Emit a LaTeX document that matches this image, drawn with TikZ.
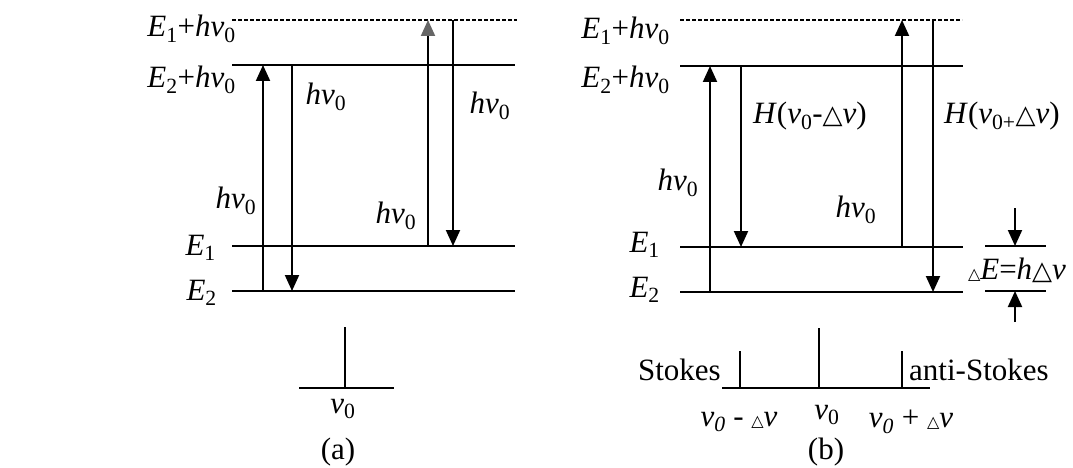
\documentclass[tikz,border=0pt]{standalone}
\usepackage{fontspec}
\setmainfont{Liberation Serif}
\newfontfamily\symfont{DejaVu Sans}
\usetikzlibrary{arrows.meta}
\newcommand\tri{{\symfont\fontsize{26}{26}\selectfont △}}
\newcommand\smalltri{{\symfont\fontsize{16}{16}\selectfont △}}
\newcommand\hvo{\textit{hv}\textsubscript{0}}
\newcommand\Eo[1]{\textit{E}\textsubscript{#1}}
\begin{document}
\begin{tikzpicture}[x=1pt,y=-1pt,
  lvl/.style={line width=2pt},
  dlvl/.style={line width=1.3pt, dash pattern=on 3.5pt off 2.5pt},
  arr/.style={line width=2pt,-{Triangle[length=16pt,width=14pt]}},
  garr/.style={line width=2pt,-{Triangle[length=16pt,width=14pt,color=black!60]}},
  lbl/.style={inner sep=0pt, font=\fontsize{31}{33}\selectfont},
  every node/.style={lbl}]
\useasboundingbox (0,0) rectangle (1073,468);
% ---------- panel (a) ----------
\coordinate (aD1) at (232,20);  \coordinate (aD2) at (517,20);
\coordinate (aU1) at (232,65);  \coordinate (aU2) at (515,65);
\coordinate (aE11) at (232,246); \coordinate (aE12) at (515,246);
\coordinate (aE21) at (232,291); \coordinate (aE22) at (515,291);
\draw[dlvl] (aD1) -- (aD2);
\draw[lvl] (aU1) -- (aU2);
\draw[lvl] (aE11) -- (aE12);
\draw[lvl] (aE21) -- (aE22);
\node[anchor=base east] (laD) at (236,37) {\Eo{1}+\hvo};
\node[anchor=base east] (laU) at (236,88) {\Eo{2}+\hvo};
\node[anchor=base east] (laE1) at (216,255) {\Eo{1}};
\node[anchor=base east] (laE2) at (217,300) {\Eo{2}};
\coordinate (a1b) at (263,291); \coordinate (a1t) at (263,65);
\coordinate (a2t) at (292,65);  \coordinate (a2b) at (292,291);
\coordinate (a3b) at (428,246); \coordinate (a3t) at (428,20);
\coordinate (a4t) at (453,20);  \coordinate (a4b) at (453,246);
\draw[arr] (a1b) -- (a1t);
\draw[arr] (a2t) -- (a2b);
\draw[garr] (a3b) -- (a3t);
\draw[arr] (a4t) -- (a4b);
\node (ha1) at (326,97) {\hvo};
\node (ha2) at (490,106) {\hvo};
\node (ha3) at (236,201) {\hvo};
\node (ha4) at (396,216) {\hvo};
\coordinate (as1) at (345,327); \coordinate (as2) at (345,388);
\coordinate (ab1) at (299,388); \coordinate (ab2) at (394,388);
\draw[lvl] (as1) -- (as2);
\draw[lvl] (ab1) -- (ab2);
\node (anu) at (343,409) {\textit{v}\textsubscript{0}};
\node (acap) at (338,452) {(a)};
% ---------- panel (b) ----------
\coordinate (bD1) at (680,20);  \coordinate (bD2) at (962,20);
\coordinate (bU1) at (680,66);  \coordinate (bU2) at (963,66);
\coordinate (bE11) at (680,247); \coordinate (bE12) at (963,247);
\coordinate (bE21) at (680,292); \coordinate (bE22) at (963,292);
\draw[dlvl] (bD1) -- (bD2);
\draw[lvl] (bU1) -- (bU2);
\draw[lvl] (bE11) -- (bE12);
\draw[lvl] (bE21) -- (bE22);
\node[anchor=base east] (lbD) at (670,39) {\Eo{1}+\hvo};
\node[anchor=base east] (lbU) at (670,88) {\Eo{2}+\hvo};
\node[anchor=base east] (lbE1) at (660,252) {\Eo{1}};
\node[anchor=base east] (lbE2) at (660,297) {\Eo{2}};
\coordinate (b1b) at (710,292); \coordinate (b1t) at (710,66);
\coordinate (b2t) at (741,66);  \coordinate (b2b) at (741,247);
\coordinate (b3b) at (902,247); \coordinate (b3t) at (902,20);
\coordinate (b4t) at (933,20);  \coordinate (b4b) at (933,292);
\draw[arr] (b1b) -- (b1t);
\draw[arr] (b2t) -- (b2b);
\draw[arr] (b3b) -- (b3t);
\draw[arr] (b4t) -- (b4b);
\node (Hm) at (810,116) {\textit{H}(\textit{v}\textsubscript{0}-\tri\textit{v})};
\node (Hp) at (1002,116) {\textit{H}(\textit{v}\textsubscript{0+}\tri\textit{v})};
\node (hb1) at (678,183) {\hvo};
\node (hb2) at (856,210) {\hvo};
% delta E bracket
\coordinate (dl1) at (985,246); \coordinate (dl2) at (1046,246);
\coordinate (dm1) at (985,291); \coordinate (dm2) at (1046,291);
\draw[lvl] (dl1) -- (dl2);
\draw[lvl] (dm1) -- (dm2);
\coordinate (dt0) at (1015,208); \coordinate (dt1) at (1015,246);
\coordinate (db0) at (1015,322); \coordinate (db1) at (1015,291);
\draw[arr] (dt0) -- (dt1);
\draw[arr] (db0) -- (db1);
\node (dE) at (1017,270) {\smalltri\textit{E}=\textit{h}\tri\textit{v}};
% spectrum
\coordinate (sb1) at (722,388); \coordinate (sb2) at (930,388);
\draw[lvl] (sb1) -- (sb2);
\coordinate (s1t) at (740,351); \coordinate (s1b) at (740,388);
\coordinate (s2t) at (819,328); \coordinate (s2b) at (819,388);
\coordinate (s3t) at (902,351); \coordinate (s3b) at (902,388);
\draw[lvl] (s1t) -- (s1b);
\draw[lvl] (s2t) -- (s2b);
\draw[lvl] (s3t) -- (s3b);
\node[anchor=base east] (st) at (721,380) {Stokes};
\node[anchor=base west] (ast) at (909,380) {anti-Stokes};
\node (nm) at (739,422) {\textit{v\textsubscript{0}} - \smalltri\textit{v}};
\node (nc) at (827,415) {\textit{v}\textsubscript{0}};
\node (np) at (911,422) {\textit{v\textsubscript{0}} + \smalltri\textit{v}};
\node (bcap) at (826,452) {(b)};
\end{tikzpicture}
\end{document}
